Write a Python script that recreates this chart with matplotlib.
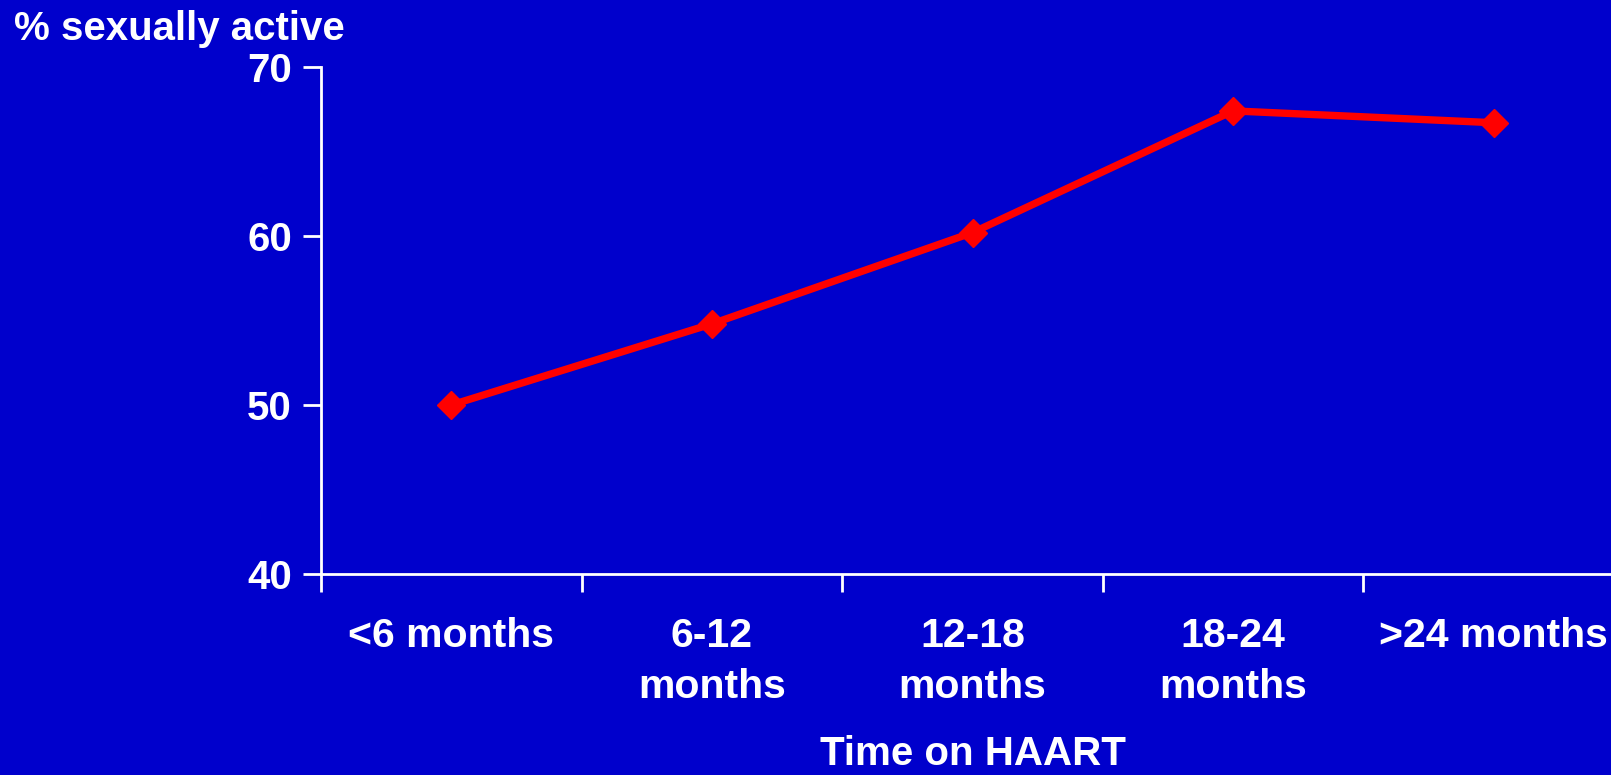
import matplotlib
matplotlib.use("Agg")
import matplotlib.pyplot as plt
import numpy as np

# data
periods = ["<6 months", "6-12\nmonths", "12-18\nmonths", "18-24\nmonths", ">24 months"]
pct_active = [50.0, 54.8, 60.2, 67.4, 66.7]
yticks = [40, 50, 60, 70]

bg = "#0000CC"
fg = "white"
plt.rcParams['font.family'] = ['Liberation Sans', 'DejaVu Sans']
plt.rcParams['font.weight'] = 'bold'

fig = plt.figure(figsize=(16.11, 7.75), dpi=100, facecolor=bg)
ax = fig.add_axes([0.1993, 0.2594, 0.8088, 0.6542])
ax.set_facecolor(bg)

x = np.arange(len(periods))
ax.plot(x, pct_active, color="#FF0000", lw=5.3, marker="D", ms=14.5,
        mec="#FF0000", mfc="#FF0000", clip_on=False)

ax.set_xlim(-0.5, len(periods) - 0.5)
ax.set_ylim(40, 70)

# category boundaries get the tick marks, labels sit in between
ax.set_xticks(np.arange(len(periods) + 1) - 0.5)
ax.set_xticklabels([])
ax.set_xticks(x, minor=True)
ax.set_xticklabels(periods, minor=True, fontsize=29.5, fontweight="bold",
                   color=fg, linespacing=1.42)
ax.tick_params(axis="x", which="major", direction="out", length=13, width=2, color=fg)
ax.tick_params(axis="x", which="minor", length=0, pad=31)

ax.set_yticks(yticks)
ax.set_yticklabels([str(v) for v in yticks], fontsize=29, fontweight="bold", color=fg)
ax.tick_params(axis="y", direction="out", length=13, width=2, color=fg, pad=8)

for s in ["top", "right"]:
    ax.spines[s].set_visible(False)
for s in ["left", "bottom"]:
    ax.spines[s].set_color(fg)
    ax.spines[s].set_linewidth(2)

ax.set_xlabel("Time on HAART", fontsize=29, fontweight="bold", color=fg, labelpad=21)
fig.text(14 / 1611, 1 - 29 / 775, "% sexually active", fontsize=29,
         fontweight="bold", color=fg, ha="left", va="center")

fig.savefig("out.png", dpi=100, facecolor=bg)
